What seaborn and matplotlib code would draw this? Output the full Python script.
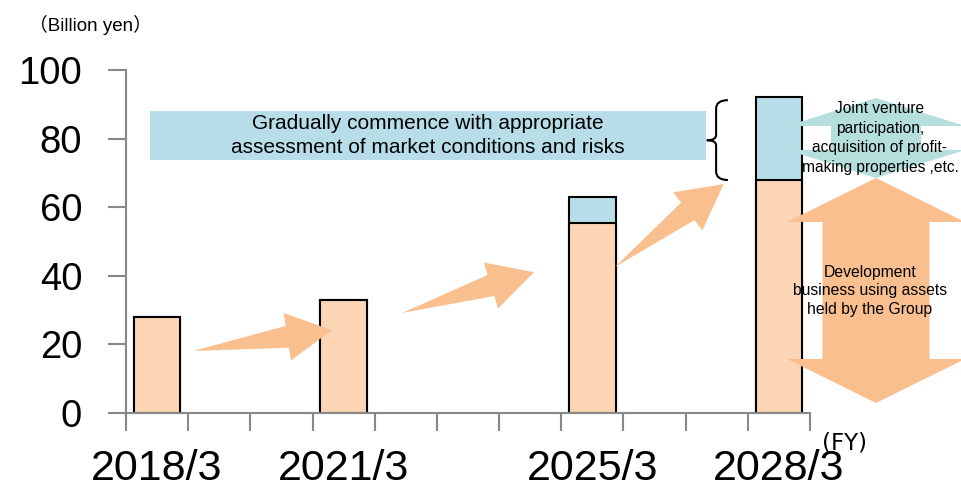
import numpy as np
import matplotlib
matplotlib.use("Agg")
import matplotlib.pyplot as plt
import seaborn as sns
from matplotlib.patches import Polygon, Rectangle, PathPatch
from matplotlib.path import Path
from matplotlib.transforms import IdentityTransform

# fiscal year slots on the x axis (only four have bars)
years = ["2018/3", "2019/3", "2020/3", "2021/3", "2022/3", "2023/3",
         "2024/3", "2025/3", "2026/3", "2027/3", "2028/3"]
plan_years = ["2018/3", "2021/3", "2025/3", "2028/3"]
own_assets = [28, 33, 55.5, 68]        # development using group assets
new_investment = [0, 0, 7.5, 24]       # JV / acquisitions etc.
total = [a + b for a, b in zip(own_assets, new_investment)]

peach = "#FCD5B5"
blue = "#B7DEE8"
orange = "#F9BF8F"
teal = "#B4DFDC"
axis_grey = "#888888"

sns.set_theme(style="white")
plt.rcParams["font.family"] = ["Liberation Sans", "Noto Sans CJK JP", "DejaVu Sans"]
plt.rcParams["text.color"] = "black"
plt.rcParams["xtick.labelcolor"] = "black"
plt.rcParams["ytick.labelcolor"] = "black"

fig = plt.figure(figsize=(9.62, 4.82), dpi=100)
W, H = 962, 482
ax = fig.add_axes([126 / W, 1 - 412.7 / H, 684 / W, 342.7 / H])

# stacked bars: total in blue, own assets on top in peach
sns.barplot(x=plan_years, y=total, order=years, color=blue, saturation=1,
            edgecolor="black", linewidth=1.5, width=0.75, ax=ax, zorder=2)
sns.barplot(x=plan_years, y=own_assets, order=years, color=peach, saturation=1,
            edgecolor="black", linewidth=1.5, width=0.75, ax=ax, zorder=2)

ax.set_xlim(-0.5, 10.5)
ax.set_ylim(0, 100)
ax.set_xlabel("")
ax.set_ylabel("")
ax.set_yticks(range(0, 101, 20))
ax.tick_params(axis="y", length=13, width=1.5, color=axis_grey, pad=18.5,
               labelsize=27.5, left=True, labelcolor="black")
ax.set_xticks(range(len(years)))
ax.set_xticklabels([y if y in plan_years else "" for y in years])
ax.set_xticks(np.arange(-0.5, len(years), 1), minor=True)
ax.tick_params(axis="x", which="major", length=0, pad=26, labelsize=31,
               labelcolor="black")
ax.tick_params(axis="x", which="minor", length=13, width=1.5, color=axis_grey,
               bottom=True)
for s in ["top", "right"]:
    ax.spines[s].set_visible(False)
for s in ["left", "bottom"]:
    ax.spines[s].set_color(axis_grey)
    ax.spines[s].set_linewidth(1.5)


# tapered arrows between bars (tail/tip in data coords, sizes in pixels)
def wedge_arrow(tail, tip, head_len=45, head_hw=24, shaft_hw=11):
    t0 = ax.transData.transform(tail)
    t1 = ax.transData.transform(tip)
    d = (t1 - t0) / np.hypot(*(t1 - t0))
    n = np.array([-d[1], d[0]])
    base = t1 - d * head_len
    pts = [t0, base + n * shaft_hw, base + n * head_hw, t1,
           base - n * head_hw, base - n * shaft_hw]
    ax.add_patch(Polygon(pts, closed=True, facecolor=orange, edgecolor="none",
                         transform=IdentityTransform(), zorder=3))


wedge_arrow((0.58, 18.0), (2.81, 24.1))
wedge_arrow((3.94, 29.1), (6.06, 41.0))
wedge_arrow((7.36, 42.5), (9.11, 66.7))


# double headed vertical arrows on the right (pixel coords from top-left)
def double_arrow(cx, top, bottom, head_len, head_hw, shaft_hw, color):
    pts = [(cx, top), (cx + head_hw, top + head_len), (cx + shaft_hw, top + head_len),
           (cx + shaft_hw, bottom - head_len), (cx + head_hw, bottom - head_len),
           (cx, bottom), (cx - head_hw, bottom - head_len), (cx - shaft_hw, bottom - head_len),
           (cx - shaft_hw, top + head_len), (cx - head_hw, top + head_len)]
    pts = [(x / W, 1 - y / H) for x, y in pts]
    ax.add_patch(Polygon(pts, closed=True, facecolor=color, edgecolor="none",
                         transform=fig.transFigure, clip_on=False, zorder=3))


double_arrow(876, 98, 178, 28, 89, 45, teal)
double_arrow(876, 178, 403, 44, 89, 53.5, orange)

fig.text(880 / W, 1 - 138 / H,
         "Joint venture\nparticipation,\nacquisition of profit-\nmaking properties ,etc.",
         ha="center", va="center", fontsize=11.2, linespacing=1.38, zorder=5)
fig.text(870 / W, 1 - 291 / H,
         "Development\nbusiness using assets\nheld by the Group",
         ha="center", va="center", fontsize=11.3, linespacing=1.3, zorder=5)

# message box
ax.add_patch(Rectangle((-0.11, 73.7), 8.93, 14.3, facecolor=blue,
                       edgecolor="none", zorder=1))
ax.text(4.36, 80.9, "Gradually commence with appropriate\nassessment of market conditions and risks",
        ha="center", va="center", fontsize=15, linespacing=1.3, zorder=4)

# curly brace pointing at the box
bx, by0, by1, ym = 8.99, 67.9, 91.2, 79.5
verts = [(9.18, by1), (bx, by1), (bx, by1 - 2.5),
         (bx, ym + 1.5), (bx, ym), (8.84, ym),
         (bx, ym), (bx, ym - 1.5),
         (bx, by0 + 2.5), (bx, by0), (9.18, by0)]
codes = [Path.MOVETO, Path.CURVE3, Path.CURVE3,
         Path.LINETO, Path.CURVE3, Path.CURVE3,
         Path.CURVE3, Path.CURVE3,
         Path.LINETO, Path.CURVE3, Path.CURVE3]
ax.add_patch(PathPatch(Path(verts, codes), facecolor="none", edgecolor="black",
                       linewidth=1.5, clip_on=False, zorder=4))

fig.text(90 / W, 1 - 25 / H, "（Billion yen）", ha="center", va="center", fontsize=13.5)
fig.text(845 / W, 1 - 443 / H, "(FY)", ha="center", va="center", fontsize=16.5,
         family=["DejaVu Sans"])

plt.savefig("out.png", dpi=100)
plt.close()
